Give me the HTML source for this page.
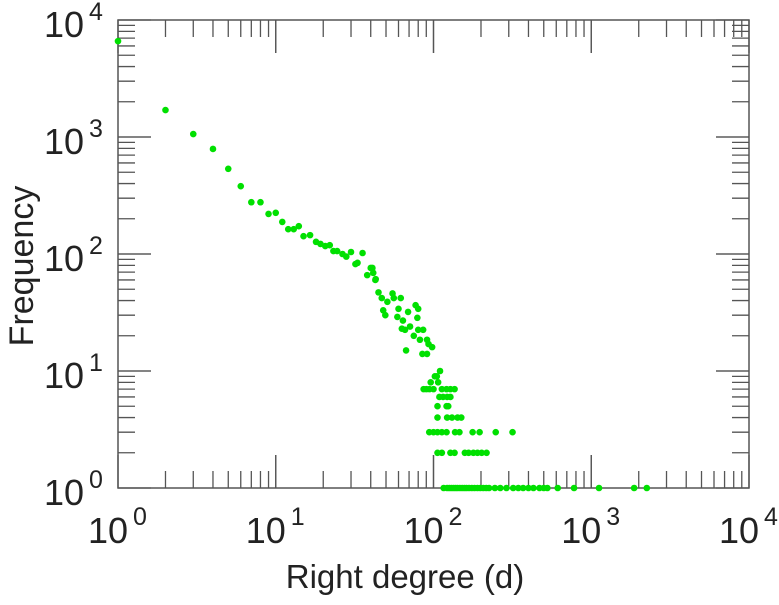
<!DOCTYPE html>
<html><head><meta charset="utf-8"><style>
body{margin:0;background:#fff;}
svg text{font-family:"Liberation Sans",sans-serif;fill:#222;}
</style></head><body>
<svg id="chart" width="779" height="600" viewBox="0 0 779 600" xmlns="http://www.w3.org/2000/svg">
<g id="ticks"></g>
<rect x="118" y="20" width="631" height="468" fill="none" stroke="#555" stroke-width="1.5"/>
<g id="labels"></g>
<g id="points"></g>
<text x="405" y="588" font-size="33" text-anchor="middle">Right degree (d)</text>
<text transform="translate(33,266) rotate(-90)" font-size="34" text-anchor="middle">Frequency</text>
</svg>
<script>
const xTickExps = [0, 1, 2, 3, 4];
const yTickExps = [0, 1, 2, 3, 4];
const degrees = [1,2,3,4,5,6,7,8,9,10,11,12,13,14,15,16.5,18,19.2,20.6,22,23.2,24.5,26.5,28,30,35.5,32,33,38,41,41.5,43,40,42.8,44.8,47,51,55,56,62,48,49.5,60,59,64,63,66,71,77,80,69,79,75,80,86,82,91,93,98,85,91,67,
110,102,105,96,107,
86.6,90.2,94.3,100,113,121,128,136,
109,115,122,128,
106,121,124,
106,122,131,142,150,
94,100,106,113,121,137,146,177,196,248,317,
106,113,128,136,158,167,179,190,202,217,
116,122,126,130,134,138,142,147,152,157,162,168,175,182,190,198,207,216,225,245,265,290,320,345,370,400,430,470,500,527,613,778,1120,1870,2250];
const freqs = [6600,1700,1060,790,535,380,277,277,220,225,188,163,163,173,142,145,127,122,117,119,106,106,100,95,104,102,82,84,66,76,69,61,76,60,47,42,39,46,42,42,33,30,34,29,27,23,22.5,24,36.5,34,32,28.5,20,22.5,22.5,18.5,18.5,17,16,14,14,15,
10,9,9,8,8,
7,7,7,7,7,7,7,7,
6,6,6,6,
5,5,5,
4,4,4,4,4,
3,3,3,3,3,3,3,3,3,3,3,
2,2,2,2,2,2,2,2,2,2,
1,1,1,1,1,1,1,1,1,1,1,1,1,1,1,1,1,1,1,1,1,1,1,1,1,1,1,1,1,1,1,1,1,1,1];
const NS='http://www.w3.org/2000/svg';
const X0=118,X1=749,Y0=488,Y1=20;
function xs(d){return X0+(Math.log10(d)-0)/4*(X1-X0);}
function ys(f){return Y0-(Math.log10(f)-0)/4*(Y0-Y1);}
function mk(tag,attrs,parent){const e=document.createElementNS(NS,tag);for(const k in attrs)e.setAttribute(k,attrs[k]);parent.appendChild(e);return e;}
const tg=document.getElementById('ticks');
for(let e=0;e<4;e++){for(let m=1;m<=10;m++){
  const v=m*Math.pow(10,e);const L=(m===1||m===10)?33:17;
  const x=xs(v);
  let t=mk('line',{x1:x,x2:x,y1:Y0,y2:Y0-L,stroke:'#555','stroke-width':1.3},tg);
  
  
  t=mk('line',{x1:x,x2:x,y1:Y1,y2:Y1+L,stroke:'#555','stroke-width':1.3},tg);
  
  
  const y=ys(v);
  t=mk('line',{x1:X0,x2:X0+L,y1:y,y2:y,stroke:'#555','stroke-width':1.3},tg);
  
  
  t=mk('line',{x1:X1,x2:X1-L,y1:y,y2:y,stroke:'#555','stroke-width':1.3},tg);
  
  
}}
const lg=document.getElementById('labels');
xTickExps.forEach(e=>{
  const x=xs(Math.pow(10,e));
  const t=mk('text',{x:x-30,y:543,'font-size':36},lg);
  
  
  t.textContent='10';
  const s=mk('text',{x:x+15,y:525,'font-size':25},lg);
  
  
  s.textContent=String(e);
});
yTickExps.forEach(e=>{
  const y=ys(Math.pow(10,e));
  const t=mk('text',{x:44,y:y+17,'font-size':36},lg);
  
  
  t.textContent='10';
  const s=mk('text',{x:89,y:y,'font-size':25},lg);
  
  
  s.textContent=String(e);
});
const pg=document.getElementById('points');
for(let i=0;i<degrees.length;i++){
  const c=mk('circle',{cx:xs(degrees[i]),cy:ys(freqs[i]),r:3.3,fill:'#00e000'},pg);
  
  
}
</script>
</body></html>
